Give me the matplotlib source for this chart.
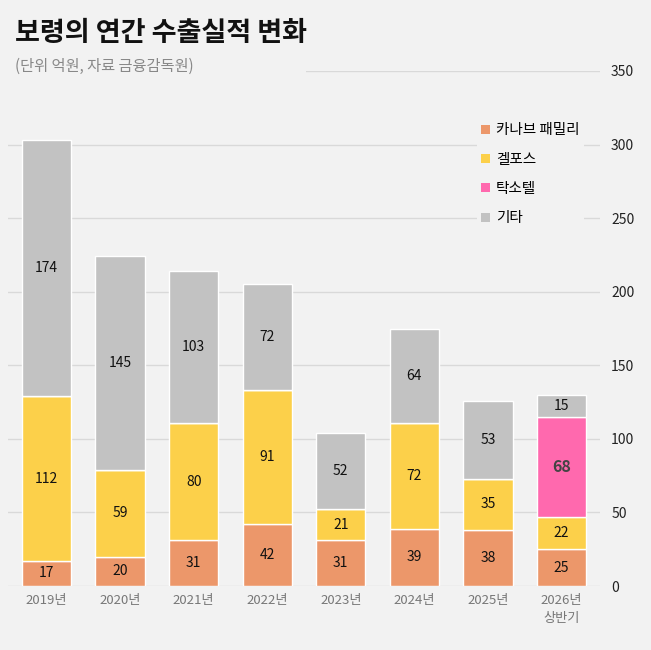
import matplotlib
matplotlib.use("Agg")
import matplotlib.pyplot as plt
from matplotlib.patches import Patch, Rectangle
import numpy as np

plt.rcParams['font.family'] = ['Noto Sans CJK KR', 'DejaVu Sans']

categories = ['2019년', '2020년', '2021년', '2022년', '2023년', '2024년', '2025년', '2026년\n상반기']
series_names = ['카나브 패밀리', '겔포스', '탁소텔', '기타']
kanarb = [17, 20, 31, 42, 31, 39, 38, 25]
gelfos = [112, 59, 80, 91, 21, 72, 35, 22]
taxotere = [0, 0, 0, 0, 0, 0, 0, 68]
others = [174, 145, 103, 72, 52, 64, 53, 15]
yticks = [0, 50, 100, 150, 200, 250, 300, 350]

colors = ['#EC976A', '#FCD04A', '#FF69AE', '#C2C2C2']
bg = '#F2F2F2'

W, H = 651, 650
fig = plt.figure(figsize=(W / 100, H / 100), dpi=100, facecolor=bg)
ax = fig.add_axes([8 / W, 64 / H, 592 / W, 515 / H])
ax.set_facecolor(bg)

x = np.arange(len(categories))
series = [kanarb, gelfos, taxotere, others]
bottom = np.zeros(len(categories))
for vals, col, name in zip(series, colors, series_names):
    vals = np.array(vals, dtype=float)
    ax.bar(x, vals, width=0.67, bottom=bottom, color=col, edgecolor='white',
           linewidth=1, zorder=3, label=name)
    for xi, v, b in zip(x, vals, bottom):
        if v > 0:
            if name == '탁소텔':
                ax.text(xi, b + v / 2, f'{int(v)}', ha='center', va='center',
                        fontsize=11.5, fontweight='bold', color='#444444', zorder=4)
            else:
                ax.text(xi, b + v / 2, f'{int(v)}', ha='center', va='center',
                        fontsize=10, color='#111111', zorder=4)
    bottom += vals

ax.set_xlim(-0.523, len(categories) - 0.477)
ax.set_ylim(0, 350)
ax.set_yticks(yticks)
ax.yaxis.tick_right()
ax.tick_params(axis='y', length=0, pad=8, labelsize=10, labelcolor='#222222')
ax.set_xticks(x)
ax.set_xticklabels(categories, fontsize=9.5, color='#777777', linespacing=1.5)
ax.tick_params(axis='x', length=0, pad=6)
for lab in ax.get_yticklabels():
    lab.set_horizontalalignment('left')
ax.grid(axis='y', color='#D9D9D9', linewidth=1, zorder=0)
ax.set_axisbelow(True)
for s in ax.spines.values():
    s.set_visible(False)

# cover behind subtitle
ax.add_patch(Rectangle((0, (650 - 80) / H), 306 / W, 20 / H, transform=fig.transFigure,
                       facecolor=bg, edgecolor='none', zorder=1.5, clip_on=False))

handles = [Patch(facecolor=c, edgecolor='none') for c in colors]
leg = ax.legend(handles, series_names, loc='upper left',
                bbox_to_anchor=(477 / W, 1 - 119 / H), bbox_transform=fig.transFigure,
                frameon=True, facecolor=bg, edgecolor='none', framealpha=1,
                handlelength=0.6, handleheight=0.6, handletextpad=0.4,
                labelspacing=1.05, borderpad=0.3, borderaxespad=0,
                prop={'size': 10.5, 'weight': 'medium'})
leg.set_zorder(5)

fig.text(15 / W, 1 - 33 / H, '보령의 연간 수출실적 변화', fontsize=19.5, fontweight='black',
         ha='left', va='center', color='#111111')
fig.text(15 / W, 1 - 66 / H, '(단위 억원, 자료 금융감독원)', fontsize=11,
         ha='left', va='center', color='#888888')

fig.savefig('out.png', dpi=100, facecolor=bg)
